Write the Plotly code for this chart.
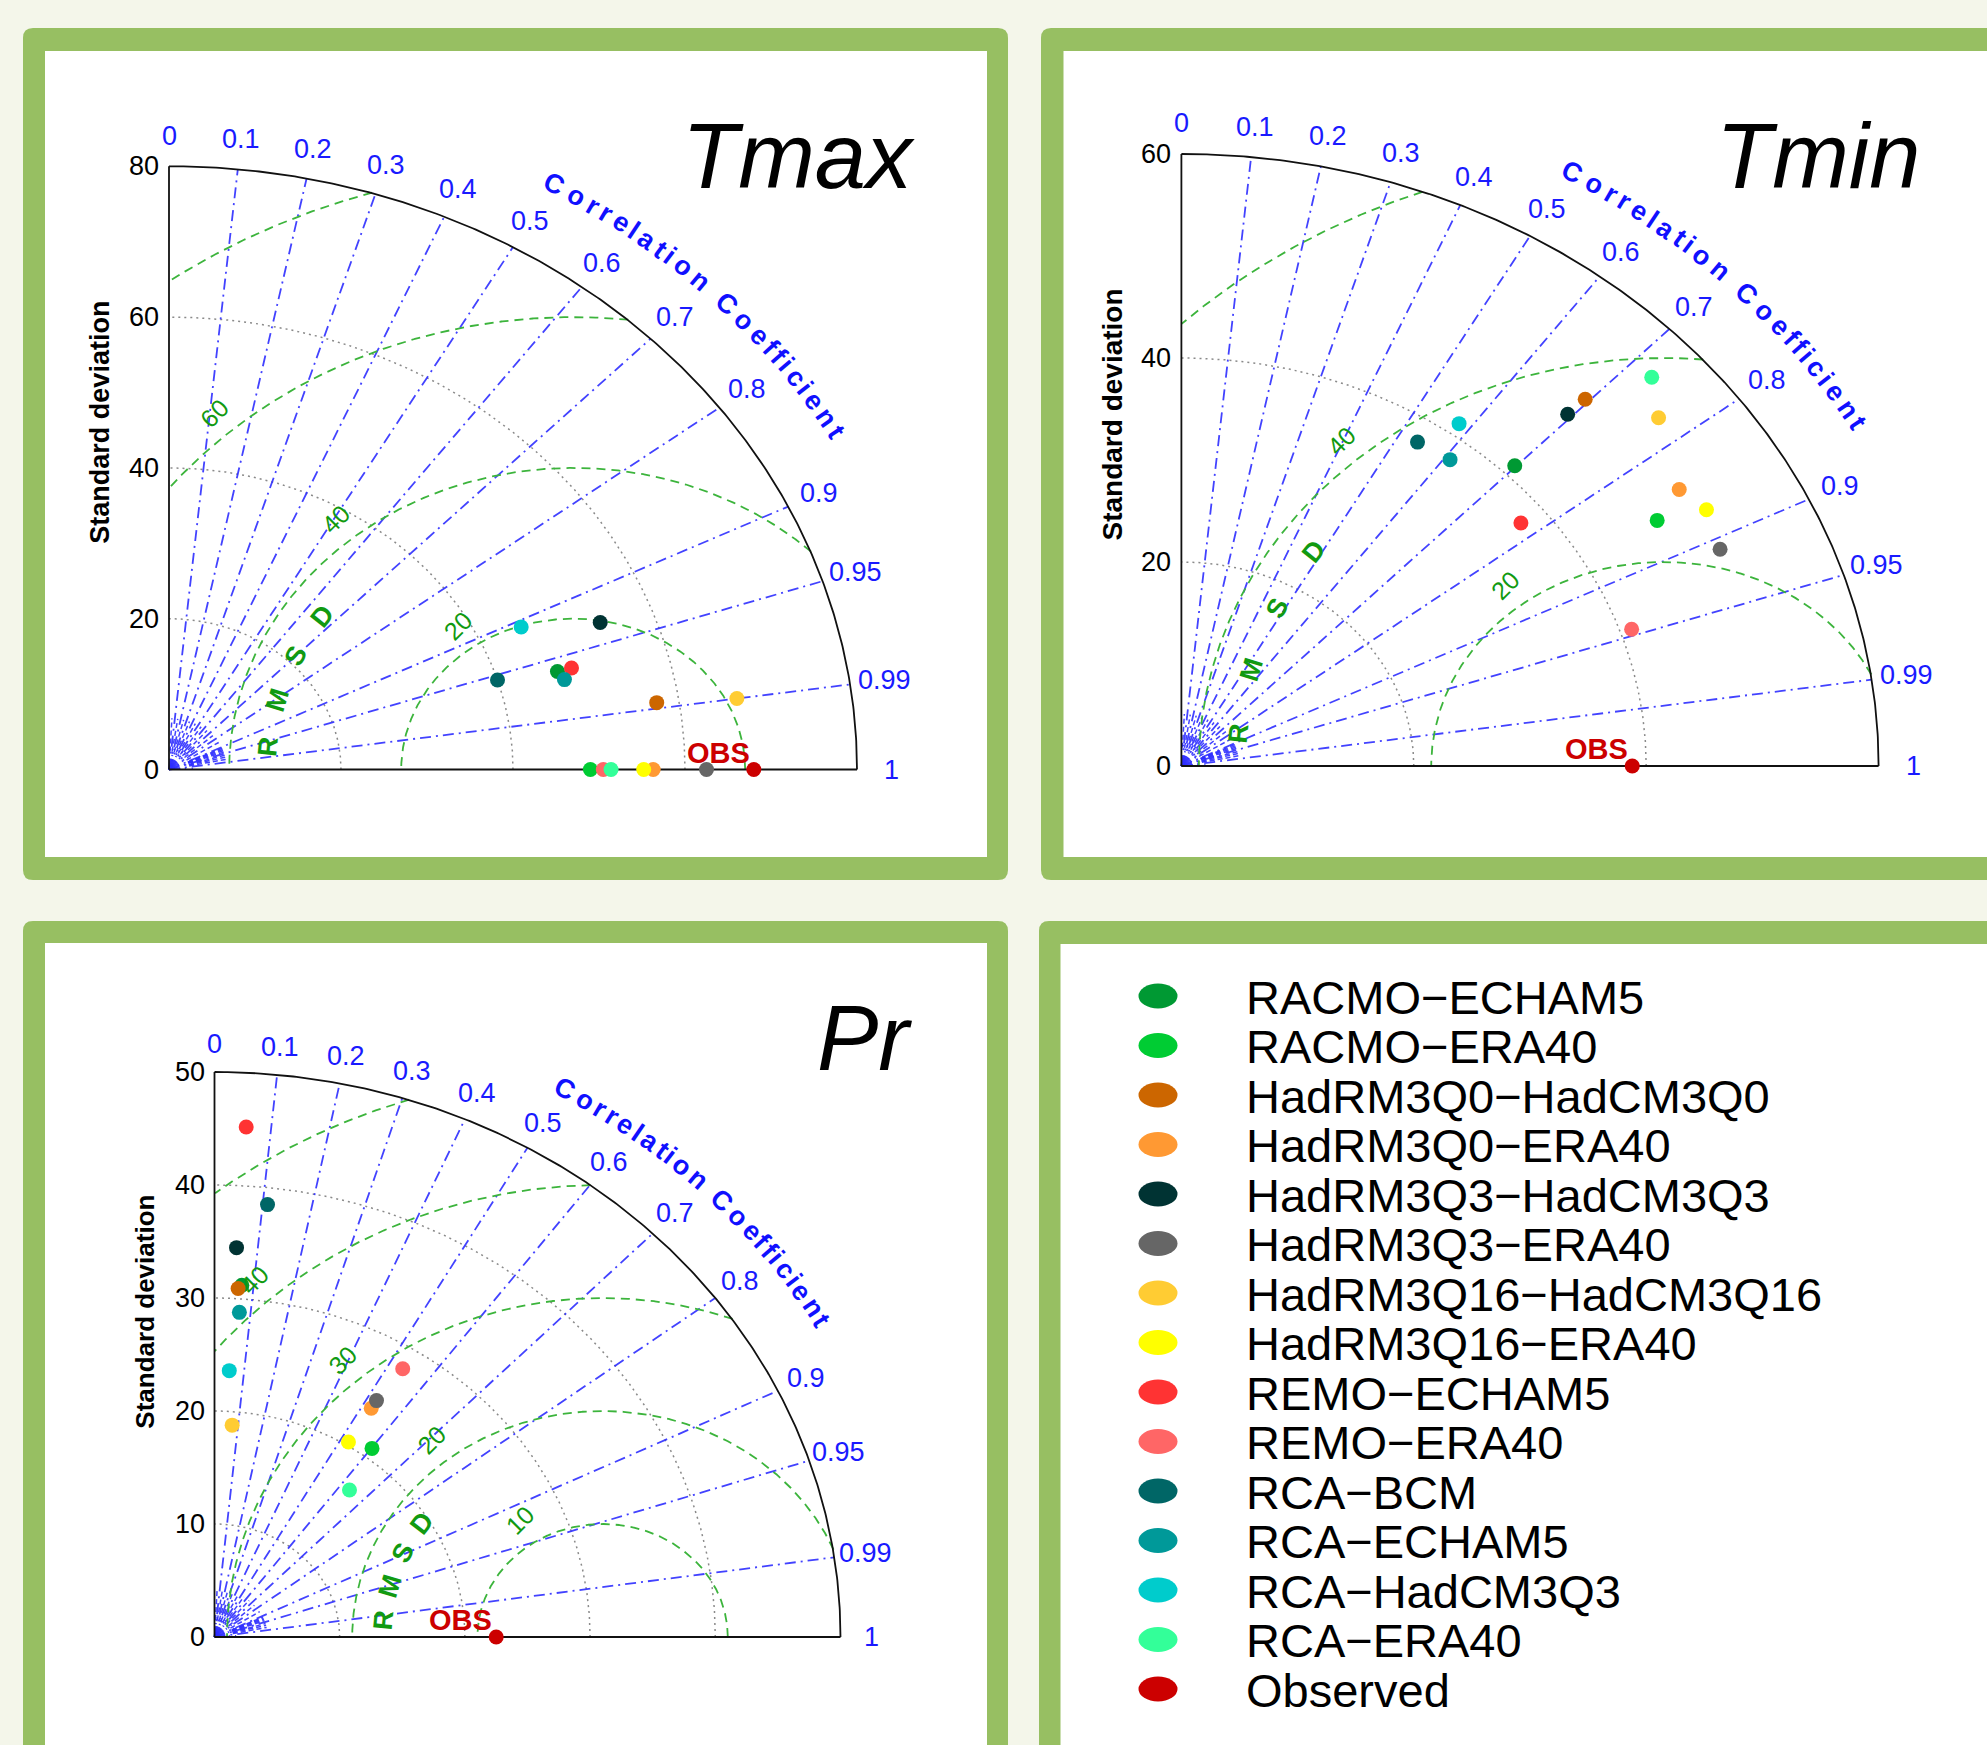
import numpy as np
import plotly.graph_objects as go

W, H = 1987, 1745

# ---------------- data ----------------
models = ["RACMO−ECHAM5", "RACMO−ERA40", "HadRM3Q0−HadCM3Q0", "HadRM3Q0−ERA40",
          "HadRM3Q3−HadCM3Q3", "HadRM3Q3−ERA40", "HadRM3Q16−HadCM3Q16", "HadRM3Q16−ERA40",
          "REMO−ECHAM5", "REMO−ERA40", "RCA−BCM", "RCA−ECHAM5", "RCA−HadCM3Q3", "RCA−ERA40"]
model_colors = ["#009933", "#00cc33", "#cc6600", "#ff9933", "#003333", "#666666", "#ffcc33",
                "#ffff00", "#ff3333", "#ff6666", "#006666", "#009999", "#00cccc", "#33ff99"]
obs_name = "Observed"
obs_color = "#cc0000"

# Tmax
tmax_std = [47.0, 49.0, 57.4, 56.3, 53.8, 62.5, 66.7, 55.2, 48.7, 50.5, 40.0, 47.5, 45.1, 51.4]
tmax_corr = [0.961, 1.0, 0.988, 1.0, 0.932, 1.0, 0.990, 1.0, 0.961, 1.0, 0.955, 0.968, 0.908, 1.0]
tmax_obs = 68.0
tmax_std_ticks = [0, 20, 40, 60, 80]
tmax_rmsd_ref = 47.0
tmax_rmsd_levels = [20, 40, 60, 80]
tmax_rmsd_labeled = [20, 40, 60]

# Tmin
tmin_std = [41.1, 47.5, 50.0, 50.7, 47.9, 51.0, 53.4, 51.7, 37.7, 41.0, 37.7, 37.9, 41.2, 55.6]
tmin_corr = [0.698, 0.862, 0.695, 0.845, 0.694, 0.909, 0.769, 0.874, 0.775, 0.945, 0.539, 0.610, 0.580, 0.728]
tmin_obs = 38.8
tmin_std_ticks = [0, 20, 40, 60]
tmin_rmsd_ref = 41.5
tmin_rmsd_levels = [20, 40, 60]
tmin_rmsd_labeled = [20, 40]

# Pr
pr_std = [31.2, 20.9, 30.9, 23.8, 34.5, 24.6, 18.8, 20.3, 45.2, 28.1, 38.5, 28.8, 23.6, 16.9]
pr_corr = [0.070, 0.602, 0.061, 0.526, 0.051, 0.526, 0.075, 0.527, 0.056, 0.535, 0.110, 0.069, 0.050, 0.638]
pr_obs = 22.5
pr_std_ticks = [0, 10, 20, 30, 40, 50]
pr_rmsd_ref = 31.0
pr_rmsd_levels = [10, 20, 30, 40, 50]
pr_rmsd_labeled = [10, 20, 30, 40]

corr_ticks = [0, 0.1, 0.2, 0.3, 0.4, 0.5, 0.6, 0.7, 0.8, 0.9, 0.95, 0.99, 1]
corr_tick_labels = ["0", "0.1", "0.2", "0.3", "0.4", "0.5", "0.6", "0.7", "0.8", "0.9", "0.95", "0.99", "1"]
minor_corr = [0.05, 0.15, 0.25, 0.35, 0.45, 0.55, 0.65, 0.75, 0.85, 0.91, 0.92, 0.93, 0.94, 0.96, 0.97, 0.98]

# ---------------- layout / style ----------------
FONT = "Liberation Sans, Arial, Helvetica, sans-serif"
BG = "#f4f6ea"
BORDER = "#97bf62"
BLUE_LINE = "rgba(45,45,255,0.9)"
BLUE_TXT = "#1a1aff"
GREEN_LINE = "#3cb43c"
GREEN_TXT = "#119a11"

panels = [
    dict(title="Tmax", std=tmax_std, corr=tmax_corr, obs=tmax_obs, ticks=tmax_std_ticks,
         ref=tmax_rmsd_ref, levels=tmax_rmsd_levels, labeled=tmax_rmsd_labeled,
         origin=(169.0, 769.5), k=(8.60, 7.54), box=(45, 51, 987, 857),
         title_xy=(798, 156), rmsd_text_r=35.6, sd_font=27),
    dict(title="Tmin", std=tmin_std, corr=tmin_corr, obs=tmin_obs, ticks=tmin_std_ticks,
         ref=tmin_rmsd_ref, levels=tmin_rmsd_levels, labeled=tmin_rmsd_labeled,
         origin=(1181.4, 766.0), k=(11.62, 10.20), box=(1063.5, 51, 1987, 857),
         title_xy=(1818, 156), rmsd_text_r=36.7, sd_font=28),
    dict(title="Pr", std=pr_std, corr=pr_corr, obs=pr_obs, ticks=pr_std_ticks,
         ref=pr_rmsd_ref, levels=pr_rmsd_levels, labeled=pr_rmsd_labeled,
         origin=(214.5, 1637.0), k=(12.52, 11.30), box=(45, 943, 987, 1745),
         title_xy=(864, 1038), rmsd_text_r=17.6, sd_font=26),
]

fig = go.Figure()
layout = {}
annotations = []
shapes = []


def px(x):
    return x / W


def py(y):
    return 1 - y / H


def add_line(xs, ys, xref, yref, color, width, dash):
    fig.add_trace(go.Scatter(x=xs, y=ys, mode="lines", xaxis=xref, yaxis=yref,
                             line=dict(color=color, width=width, dash=dash),
                             hoverinfo="skip", showlegend=False))


def join(segments):
    xs, ys = [], []
    for sx, sy in segments:
        xs += [float(v) for v in sx] + [None]
        ys += [float(v) for v in sy] + [None]
    return xs, ys


char_w = {"C": .722, "o": .611, "r": .389, "e": .556, "l": .278, "a": .556, "t": .333,
          "i": .278, "n": .611, " ": .278, "f": .333, "c": .556}

for i, p in enumerate(panels):
    sid = "" if i == 0 else str(i + 1)
    xr, yr = "x" + sid, "y" + sid
    ox, oy = p["origin"]
    kx, ky = p["k"]
    bx0, by0, bx1, by1 = p["box"]
    R = p["ticks"][-1]
    layout["xaxis" + sid] = dict(domain=[bx0 / W, bx1 / W], range=[(bx0 - ox) / kx, (bx1 - ox) / kx],
                                 visible=False, anchor=yr, fixedrange=True)
    layout["yaxis" + sid] = dict(domain=[1 - by1 / H, 1 - by0 / H], range=[(oy - by1) / ky, (oy - by0) / ky],
                                 visible=False, anchor=xr, fixedrange=True)

    t = np.linspace(0, np.pi / 2, 300)
    # gray dotted std arcs
    segs = [(s * np.cos(t), s * np.sin(t)) for s in p["ticks"][1:-1]]
    xs, ys = join(segs)
    add_line(xs, ys, xr, yr, "#8a8a8a", 1.5, "2px,4px")
    # tiny blue arcs near origin
    segs = [(f * R * np.cos(t), f * R * np.sin(t)) for f in (0.008, 0.016, 0.024, 0.034)]
    xs, ys = join(segs)
    add_line(xs, ys, xr, yr, BLUE_LINE, 1.2, "2px,2px")
    # minor radial lines
    segs = [([0.03 * R * c, 0.085 * R * c], [0.03 * R * np.sqrt(1 - c * c), 0.085 * R * np.sqrt(1 - c * c)])
            for c in minor_corr]
    xs, ys = join(segs)
    add_line(xs, ys, xr, yr, BLUE_LINE, 1.5, "5px,3px")
    # major radial lines
    segs = [([0, R * c], [0, R * np.sqrt(1 - c * c)]) for c in corr_ticks[1:-1]]
    xs, ys = join(segs)
    add_line(xs, ys, xr, yr, BLUE_LINE, 1.8, "11px,5px,2px,5px")
    # RMSD circles
    phi = np.linspace(0, np.pi, 1441)
    segs = []
    for lev in p["levels"]:
        cx = p["ref"] + lev * np.cos(phi)
        cy = lev * np.sin(phi)
        ok = (cx >= 0) & (np.hypot(cx, cy) <= R * 1.001)
        sx, sy = [], []
        for a, b, m in zip(cx, cy, ok):
            if m:
                sx.append(a); sy.append(b)
            elif sx:
                segs.append((sx, sy)); sx, sy = [], []
        if sx:
            segs.append((sx, sy))
    xs, ys = join(segs)
    add_line(xs, ys, xr, yr, GREEN_LINE, 1.8, "9px,6px")
    # frame: outer arc + axes
    xs, ys = join([(R * np.cos(t), R * np.sin(t)), ([0, 0], [0, R]), ([0, R], [0, 0])])
    add_line(xs, ys, xr, yr, "#111111", 1.8, "solid")

    # model points
    std = np.array(p["std"]); cr = np.array(p["corr"])
    fig.add_trace(go.Scatter(x=std * cr, y=std * np.sqrt(np.clip(1 - cr ** 2, 0, None)),
                             mode="markers", xaxis=xr, yaxis=yr, hoverinfo="text", text=models,
                             marker=dict(color=model_colors, size=15, line=dict(width=0)),
                             showlegend=False))
    fig.add_trace(go.Scatter(x=[p["obs"]], y=[0], mode="markers", xaxis=xr, yaxis=yr,
                             marker=dict(color=obs_color, size=15, line=dict(width=0)),
                             hoverinfo="text", text=[obs_name], showlegend=False))
    annotations.append(dict(x=p["obs"], y=0, xref=xr, yref=yr, text="<b>OBS</b>", showarrow=False,
                            xanchor="right", yanchor="bottom", xshift=-2, yshift=-1,
                            font=dict(family=FONT, size=29, color=obs_color)))

    # std tick labels
    for s in p["ticks"]:
        annotations.append(dict(x=0, y=s, xref=xr, yref=yr, text=str(s), showarrow=False,
                                xanchor="right", yanchor="middle", xshift=-8,
                                font=dict(family=FONT, size=27, color="black")))
    annotations.append(dict(x=0, y=0.575 * R, xref=xr, yref=yr, text="<b>Standard deviation</b>",
                            showarrow=False, textangle=-90, xshift=-69, xanchor="center", yanchor="middle",
                            font=dict(family=FONT, size=p["sd_font"], color="black")))
    # correlation labels
    for c, lab in zip(corr_ticks, corr_tick_labels):
        th = np.arccos(c)
        annotations.append(dict(x=1.05 * R * np.cos(th), y=1.05 * R * np.sin(th), xref=xr, yref=yr,
                                text=lab, showarrow=False, xanchor="center", yanchor="middle",
                                font=dict(family=FONT, size=27, color=BLUE_TXT)))
    # curved "Correlation Coefficient"
    title_txt = "Correlation Coefficient"
    widths = [char_w.get(ch, .6) for ch in title_txt]
    centers = np.cumsum(widths) - np.array(widths) / 2
    frac = (centers - centers[0]) / (centers[-1] - centers[0])
    angs = np.radians(60 - 30 * frac)
    for ch, a in zip(title_txt, angs):
        if ch == " ":
            continue
        rot = np.degrees(np.arctan2(ky * np.cos(a), kx * np.sin(a)))
        annotations.append(dict(x=1.12 * R * np.cos(a), y=1.12 * R * np.sin(a), xref=xr, yref=yr,
                                text="<b>" + ch + "</b>", showarrow=False, textangle=rot,
                                xanchor="center", yanchor="middle",
                                font=dict(family=FONT, size=27, color="#1010ff")))
    # RMSD labels (along the 135-degree direction from the reference point)
    a135 = np.radians(135)
    for lev in p["labeled"]:
        annotations.append(dict(x=p["ref"] + lev * np.cos(a135), y=lev * np.sin(a135), xref=xr, yref=yr,
                                text=str(lev), showarrow=False, textangle=-45, xshift=6, yshift=37,
                                xanchor="center", yanchor="middle",
                                font=dict(family=FONT, size=25, color=GREEN_TXT)))
    for ch, adeg in zip("RMSD", [175, 165, 155, 145]):
        a = np.radians(adeg)
        rr = p["rmsd_text_r"]
        dx, dy = np.sin(a), -np.cos(a)
        rot = np.degrees(np.arctan2(-dy * ky, dx * kx))
        annotations.append(dict(x=p["ref"] + rr * np.cos(a), y=rr * np.sin(a), xref=xr, yref=yr,
                                text="<b>" + ch + "</b>", showarrow=False, textangle=rot,
                                xanchor="center", yanchor="middle",
                                font=dict(family=FONT, size=27, color=GREEN_TXT)))
    # panel title
    annotations.append(dict(x=px(p["title_xy"][0]), y=py(p["title_xy"][1]), xref="paper", yref="paper",
                            text="<i>" + p["title"] + "</i>", showarrow=False,
                            xanchor="center", yanchor="middle",
                            font=dict(family=FONT, size=92, color="black")))


def rrect(x0, y0, x1, y1, r):
    X = lambda v: f"{px(v):.6f}"
    Y = lambda v: f"{py(v):.6f}"
    rx, ry = r, r
    return (f"M {X(x0 + rx)},{Y(y0)} L {X(x1 - rx)},{Y(y0)} Q {X(x1)},{Y(y0)} {X(x1)},{Y(y0 + ry)} "
            f"L {X(x1)},{Y(y1 - ry)} Q {X(x1)},{Y(y1)} {X(x1 - rx)},{Y(y1)} L {X(x0 + rx)},{Y(y1)} "
            f"Q {X(x0)},{Y(y1)} {X(x0)},{Y(y1 - ry)} L {X(x0)},{Y(y0 + ry)} Q {X(x0)},{Y(y0)} {X(x0 + rx)},{Y(y0)} Z")


boxes = [((23, 28, 1008, 880), (45, 51, 987, 857)),
         ((1041, 28, 2040, 880), (1063.5, 51, 2040, 857)),
         ((23, 921, 1008, 1800), (45, 943, 987, 1800)),
         ((1039, 921, 2040, 1800), (1060.5, 944, 2040, 1800))]
for outer, inner in boxes:
    shapes.append(dict(type="path", path=rrect(*outer, 10), xref="paper", yref="paper",
                       fillcolor=BORDER, line=dict(width=0), layer="below"))
    shapes.append(dict(type="rect", x0=px(inner[0]), y0=py(inner[3]), x1=px(inner[2]), y1=py(inner[1]),
                       xref="paper", yref="paper", fillcolor="white", line=dict(width=0), layer="below"))

# legend panel
legend_names = models + [obs_name]
legend_colors = model_colors + [obs_color]
for j, (nm, col) in enumerate(zip(legend_names, legend_colors)):
    yc = 996 + 49.5 * j
    shapes.append(dict(type="circle", xref="paper", yref="paper", x0=px(1138.5), x1=px(1177.5),
                       y0=py(yc + 12.5), y1=py(yc - 12.5),
                       fillcolor=col, line=dict(width=0), layer="above"))
    annotations.append(dict(x=px(1244), y=py(yc + 1), xref="paper", yref="paper", text=nm, showarrow=False,
                            xanchor="left", yanchor="middle",
                            font=dict(family=FONT, size=47, color="black")))

fig.update_layout(width=W, height=H, margin=dict(l=0, r=0, t=0, b=0, pad=0),
                  paper_bgcolor=BG, plot_bgcolor="rgba(0,0,0,0)", showlegend=False,
                  annotations=annotations, shapes=shapes, **layout)

fig.write_html("out.html", config={"displayModeBar": False},
               post_script="document.body.style.margin='0';document.body.style.overflow='hidden';")
